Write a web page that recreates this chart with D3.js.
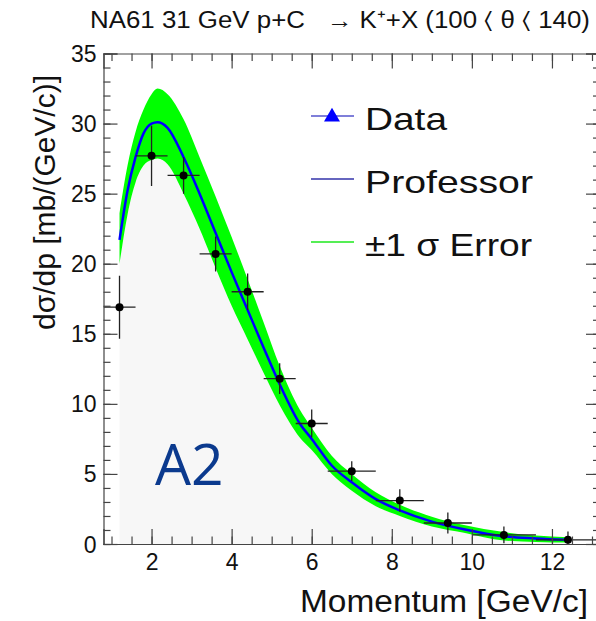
<!DOCTYPE html>
<html>
<head>
<meta charset="utf-8">
<script src="https://cdn.jsdelivr.net/npm/d3@7"></script>
<style>
  body { margin: 0; background: #fff; }
  text { font-family: "Liberation Sans", Arial, sans-serif; }
</style>
</head>
<body>
<svg id="chart" width="596" height="621"></svg>
<script>
// professor prediction (centre line and +-1 sigma band)
const curveX = [1.2, 1.4, 1.6, 1.8, 2.0, 2.15, 2.4, 2.8, 3.2, 3.6, 4.0, 4.4, 4.8, 5.2, 5.7, 6.0, 6.5, 7.0, 7.6, 8.2, 9.0, 9.8, 10.8, 11.6, 12.4];
const curveY = [21.7, 25.2, 27.6, 29.3, 30.0, 30.1, 29.7, 27.6, 25.0, 22.2, 19.4, 16.7, 14.0, 11.4, 8.6, 7.5, 5.6, 4.4, 3.2, 2.4, 1.6, 1.05, 0.55, 0.4, 0.3];
const bandHi = [23.6, 27.0, 29.4, 31.0, 32.1, 32.5, 32.1, 30.3, 27.6, 24.8, 21.9, 18.9, 15.8, 12.7, 9.6, 8.3, 6.3, 5.0, 3.7, 2.8, 1.95, 1.35, 0.85, 0.6, 0.48];
const bandLo = [20.0, 23.5, 25.8, 27.0, 27.4, 27.5, 27.1, 25.0, 22.5, 19.7, 17.0, 14.6, 12.2, 9.9, 7.6, 6.7, 5.0, 3.8, 2.7, 2.0, 1.25, 0.8, 0.25, 0.15, 0.1];

// NA61 data points
const dataX = [1.2, 2.0, 2.8, 3.6, 4.4, 5.2, 6.0, 7.0, 8.2, 9.4, 10.8, 12.4];
const binLo = [0.8, 1.6, 2.4, 3.2, 4.0, 4.8, 5.6, 6.4, 7.6, 8.8, 10.0, 11.6];
const binHi = [1.6, 2.4, 3.2, 4.0, 4.8, 5.6, 6.4, 7.6, 8.8, 10.0, 11.6, 13.2];
const dataY = [16.9, 27.7, 26.3, 20.7, 18.0, 11.8, 8.6, 5.2, 3.1, 1.5, 0.65, 0.3];
const dataErr = [2.25, 2.15, 1.3, 1.25, 1.3, 1.1, 1.0, 0.7, 0.8, 0.75, 0.6, 0.6];

const xTicks = [2, 4, 6, 8, 10, 12];
const yTicks = [0, 5, 10, 15, 20, 25, 30, 35];
const legendLabels = ["Data", "Professor", "\u00B11 \u03C3 Error"];
const legendWidths = [82, 168, 167];

const padL = 103.5, padR = 600, padT = 53.5, padB = 544;

const svg = d3.select("#chart");
const x = d3.scaleLinear().domain([0.8, 13.2]).range([padL, padR]);
const y = d3.scaleLinear().domain([0, 35]).range([padB, padT]);

const curve = curveX.map((d, i) => ({x: d, y: curveY[i], hi: bandHi[i], lo: bandLo[i]}));
const pts = dataX.map((d, i) => ({x: d, y: dataY[i], e: dataErr[i], x0: binLo[i], x1: binHi[i]}));

const plot = svg.append("g");
plot.append("clipPath").attr("id", "clip")
  .append("rect").attr("x", padL).attr("y", padT).attr("width", padR - padL).attr("height", padB - padT);
const inner = plot.append("g").attr("clip-path", "url(#clip)");

// grey fill under the band
inner.append("path")
  .datum(curve)
  .attr("fill", "#f7f7f7")
  .attr("d", d3.area().x(d => x(d.x)).y0(y(0)).y1(d => y(d.lo)).curve(d3.curveMonotoneX));

// green band
inner.append("path")
  .datum(curve)
  .attr("fill", "#00ff00")
  .attr("d", d3.area().x(d => x(d.x)).y0(d => y(d.lo)).y1(d => y(d.hi)).curve(d3.curveMonotoneX));

// blue prediction line
inner.append("path")
  .datum(curve)
  .attr("fill", "none")
  .attr("stroke", "#0000ff")
  .attr("stroke-width", 2.5)
  .attr("d", d3.line().x(d => x(d.x)).y(d => y(d.y)).curve(d3.curveMonotoneX));

// data error bars and markers
const pg = inner.append("g");
pg.selectAll("line.h").data(pts).join("line")
  .attr("class", "h")
  .attr("x1", d => x(d.x0)).attr("x2", d => x(d.x1))
  .attr("y1", d => y(d.y)).attr("y2", d => y(d.y))
  .attr("stroke", "#222").attr("stroke-width", 1.3);
pg.selectAll("line.v").data(pts).join("line")
  .attr("class", "v")
  .attr("x1", d => x(d.x)).attr("x2", d => x(d.x))
  .attr("y1", d => y(d.y - d.e)).attr("y2", d => y(d.y + d.e))
  .attr("stroke", "#222").attr("stroke-width", 1.3);
pg.selectAll("circle").data(pts).join("circle")
  .attr("cx", d => x(d.x)).attr("cy", d => y(d.y)).attr("r", 4)
  .attr("fill", "#000");

// A2 label
svg.append("text")
  .attr("x", 155).attr("y", 485)
  .attr("font-size", 57)
  .style("font-family", "'Open Sans', sans-serif")
  .attr("fill", "#0b3a8e")
  .text("A2");

// frame and ticks (ROOT style, ticks inside on all sides)
const axColor = "#444";
const xMinor = d3.range(1.0, 13.2, 0.5);
const yMinor = d3.range(0, 35.01, 1);

const bAxis = svg.append("g").attr("transform", `translate(0,${padB})`)
  .call(d3.axisBottom(x).tickValues(xTicks).tickSize(-15).tickPadding(10).tickFormat(d3.format("d")));
const tAxis = svg.append("g").attr("transform", `translate(0,${padT})`)
  .call(d3.axisTop(x).tickValues(xTicks).tickSize(-15).tickFormat(""));
const lAxis = svg.append("g").attr("transform", `translate(${padL},0)`)
  .call(d3.axisLeft(y).tickValues(yTicks).tickSize(-14).tickPadding(7).tickFormat(d3.format("d")));
const rAxis = svg.append("g").attr("transform", `translate(${padR},0)`)
  .call(d3.axisRight(y).tickValues(yTicks).tickSize(-14).tickFormat(""));

svg.append("g").attr("transform", `translate(0,${padB})`)
  .call(d3.axisBottom(x).tickValues(xMinor).tickSize(-7.5).tickFormat(""))
  .call(g => g.select(".domain").remove());
svg.append("g").attr("transform", `translate(0,${padT})`)
  .call(d3.axisTop(x).tickValues(xMinor).tickSize(-7.5).tickFormat(""))
  .call(g => g.select(".domain").remove());
svg.append("g").attr("transform", `translate(${padL},0)`)
  .call(d3.axisLeft(y).tickValues(yMinor).tickSize(-7).tickFormat(""))
  .call(g => g.select(".domain").remove());
svg.append("g").attr("transform", `translate(${padR},0)`)
  .call(d3.axisRight(y).tickValues(yMinor).tickSize(-7).tickFormat(""))
  .call(g => g.select(".domain").remove());

svg.selectAll(".domain").attr("stroke", axColor).attr("stroke-width", 1.2);
svg.selectAll(".tick line").attr("stroke", axColor).attr("stroke-width", 1.2);
svg.selectAll(".tick text")
  .attr("fill", "#111")
  .style("font-family", "'Liberation Sans', Arial, sans-serif")
  .attr("font-size", 23);
lAxis.selectAll(".tick text").attr("dy", "0.35em");

// legend
const lg = svg.append("g");
const legY = [116, 179, 242];
lg.append("line").attr("x1", 311).attr("x2", 354).attr("y1", legY[0]).attr("y2", legY[0])
  .attr("stroke", "#5555cc").attr("stroke-width", 1.5);
lg.append("path")
  .attr("d", d3.symbol(d3.symbolTriangle, 110)())
  .attr("transform", `translate(332,${legY[0] + 1})`)
  .attr("fill", "#0000ff");
lg.append("line").attr("x1", 311).attr("x2", 354).attr("y1", legY[1]).attr("y2", legY[1])
  .attr("stroke", "#3333aa").attr("stroke-width", 1.5);
lg.append("line").attr("x1", 311).attr("x2", 354).attr("y1", legY[2]).attr("y2", legY[2])
  .attr("stroke", "#55ee55").attr("stroke-width", 2);
lg.selectAll("text").data(legendLabels).join("text")
  .attr("x", 365)
  .attr("y", (d, i) => legY[i] + 14)
  .attr("font-size", 32)
  .attr("textLength", (d, i) => legendWidths[i])
  .attr("lengthAdjust", "spacingAndGlyphs")
  .attr("fill", "#111")
  .text(d => d);

// titles
svg.append("text")
  .attr("x", 90).attr("y", 28)
  .attr("font-size", 23)
  .attr("textLength", 500)
  .attr("lengthAdjust", "spacingAndGlyphs")
  .attr("fill", "#111")
  .text("NA61 31 GeV p+C \u00A0 \u2192 K\u207A+X (100 \u2329 \u03B8 \u2329 140)");

svg.append("text")
  .attr("x", 300).attr("y", 612)
  .attr("font-size", 31)
  .attr("textLength", 288)
  .attr("lengthAdjust", "spacingAndGlyphs")
  .attr("fill", "#111")
  .text("Momentum [GeV/c]");

svg.append("text")
  .attr("transform", "translate(55,330) rotate(-90)")
  .attr("font-size", 29)
  .attr("textLength", 255)
  .attr("lengthAdjust", "spacingAndGlyphs")
  .attr("fill", "#111")
  .text("d\u03C3/dp [mb/(GeV/c)]");
</script>
</body>
</html>
